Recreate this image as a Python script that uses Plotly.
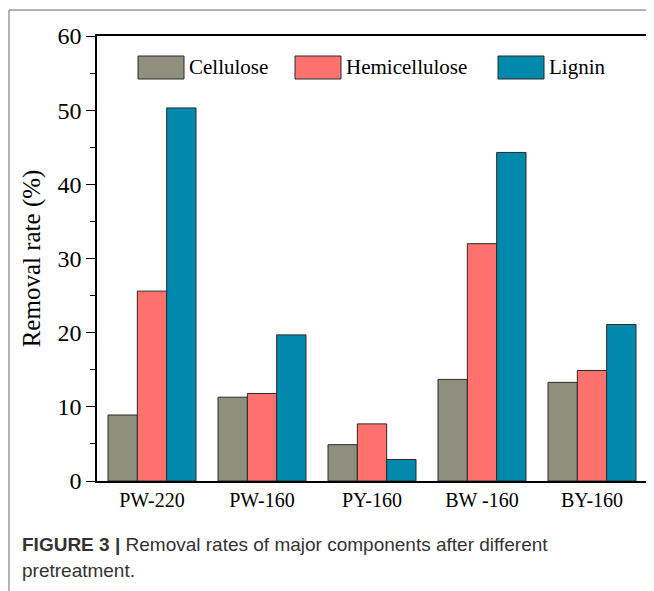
import plotly.graph_objects as go

categories = ["PW-220", "PW-160", "PY-160", "BW -160", "BY-160"]
series_names = ["Cellulose", "Hemicellulose", "Lignin"]
cellulose = [8.9, 11.3, 4.9, 13.7, 13.3]
hemicellulose = [25.6, 11.8, 7.7, 32.0, 14.9]
lignin = [50.3, 19.7, 2.9, 44.3, 21.1]
colors = ["#8F8F7E", "#FF716C", "#0088AD"]
y_ticks = [0, 10, 20, 30, 40, 50, 60]

# page has an 8px body margin, so the figure is offset by 8px
OFF = 8
W, H = 654 - OFF, 591 - OFF
PL, PR, PT, PB = 97, 647, 36, 481   # plot area in page pixels
L, T = PL - OFF, PT - OFF
R = W - (PR - OFF)
B = H - (PB - OFF)
PW = PR - PL
PH = PB - PT

def px(x):
    return (x - PL) / PW

def py(y):
    return (PB - y) / PH

serif = "Liberation Serif, Times New Roman, serif"

fig = go.Figure()
for name, vals, col in zip(series_names, [cellulose, hemicellulose, lignin], colors):
    fig.add_trace(go.Bar(
        x=categories, y=vals, name=name,
        marker=dict(color=col, line=dict(color="#2a2a2a", width=1)),
        showlegend=False,
    ))

fig.update_layout(
    width=W, height=H,
    margin=dict(l=L, r=R, t=T, b=B, autoexpand=False),
    paper_bgcolor="white", plot_bgcolor="white",
    barmode="group", bargap=0.2, bargroupgap=0,
    font=dict(family=serif, color="black"),
)
fig.update_xaxes(
    showline=True, linecolor="black", linewidth=1.5, mirror=True,
    ticks="", tickfont=dict(family=serif, size=20, color="black"),
    showgrid=False, zeroline=False,
)
fig.update_yaxes(
    range=[0, 60], tickvals=y_ticks, ticktext=[str(v) for v in y_ticks],
    showline=True, linecolor="black", linewidth=1.5, mirror=True,
    ticks="outside", ticklen=9, tickwidth=1.2, tickcolor="black",
    minor=dict(dtick=5, tick0=0, ticks="outside", ticklen=5, tickwidth=1.2, tickcolor="black"),
    tickfont=dict(family=serif, size=24, color="black"),
    showgrid=False, zeroline=False,
    title=dict(text="Removal rate (%)", font=dict(family=serif, size=25, color="black"), standoff=10),
)

# Legend drawn as swatches + labels
leg = [(138, 184, 187), (295, 341, 344), (498, 544, 547)]
shapes = []
annots = []
for (x0, x1, tx), name, col in zip(leg, series_names, colors):
    shapes.append(dict(type="rect", xref="paper", yref="paper",
                       x0=px(x0), x1=px(x1), y0=py(79), y1=py(56),
                       fillcolor=col, line=dict(color="#2a2a2a", width=1)))
    annots.append(dict(text=name, xref="paper", yref="paper", x=px(tx), y=py(67.5),
                       xanchor="left", yanchor="middle", showarrow=False,
                       font=dict(family=serif, size=21, color="black")))

# outer panel frame
shapes.append(dict(type="line", xref="paper", yref="paper", x0=px(9), x1=px(660),
                   y0=py(10), y1=py(10), line=dict(color="#666666", width=1)))
shapes.append(dict(type="line", xref="paper", yref="paper", x0=px(9), x1=px(9),
                   y0=py(10), y1=py(600), line=dict(color="#666666", width=1)))

sans = "Liberation Sans, Arial, sans-serif"
annots.append(dict(text="<b>FIGURE 3 |</b> Removal rates of major components after different",
                   xref="paper", yref="paper", x=px(20), y=py(544), xanchor="left", yanchor="middle",
                   showarrow=False, font=dict(family=sans, size=19, color="#333333")))
annots.append(dict(text="pretreatment.",
                   xref="paper", yref="paper", x=px(20), y=py(570), xanchor="left", yanchor="middle",
                   showarrow=False, font=dict(family=sans, size=19, color="#333333")))

fig.update_layout(shapes=shapes, annotations=annots)
fig.write_html("out.html")
